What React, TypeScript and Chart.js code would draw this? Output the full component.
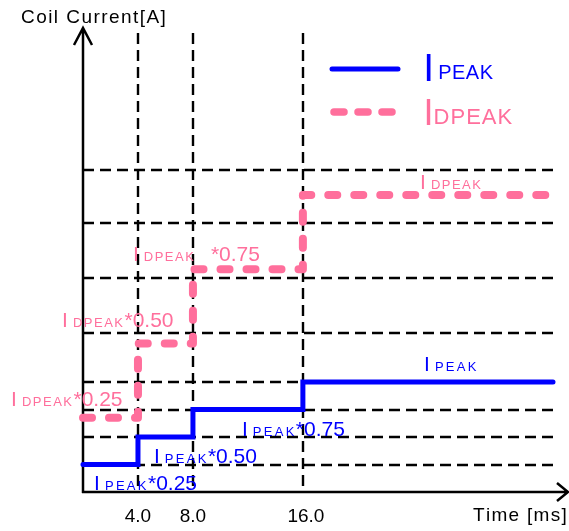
import { useEffect, useRef } from "react";
import { Chart, registerables } from "chart.js";

Chart.register(...registerables);

// ---- data ----
const timeMs = [0, 4, 8, 16, 34.2];
const ipeakLevels = [0.25, 0.5, 0.75, 1.0, 1.0];
const idpeakLevels = [0.675, 1.35, 2.025, 2.7, 2.7];
const gridLevels = [0.25, 0.5, 0.75, 1.0, 1.45, 1.95, 2.45, 2.93];
const xTicks = [4, 8, 16];
const xTickLabels = ["4.0", "8.0", "16.0"];
const yAxisTitle = "Coil Current[A]";
const xAxisTitle = "Time [ms]";
const seriesSubs = ["PEAK", "DPEAK"];
const ipeakSuffixes = ["*0.25", "*0.50", "*0.75", ""];
const idpeakSuffixes = ["*0.25", "*0.50", "*0.75", ""];

const BLUE = "#0000ff";
const PINK = "#ff6f9c";
const FONT = '"Liberation Sans", Arial, sans-serif';

function drawSeg(ctx: CanvasRenderingContext2D, text: string, x: number, y: number, size: number, spacing: number) {
  ctx.font = `${size}px ${FONT}`;
  let cx = x;
  for (const ch of text) {
    ctx.fillText(ch, cx, y);
    cx += ctx.measureText(ch).width + spacing;
  }
  return cx - spacing;
}

function drawILabel(
  ctx: CanvasRenderingContext2D,
  barX: number,
  base: number,
  color: string,
  sub: string,
  suffix: string,
  o: { iSize: number; gap: number; subSize: number; subSpacing: number; subBase?: number; sufGap: number; sufSize: number }
) {
  ctx.fillStyle = color;
  ctx.textAlign = "left";
  ctx.textBaseline = "alphabetic";
  ctx.font = `${o.iSize}px ${FONT}`;
  const ix = barX - o.iSize * 0.094;
  ctx.fillText("I", ix, base);
  const iw = ctx.measureText("I").width;
  const cx = drawSeg(ctx, sub, ix + iw + o.gap, base + (o.subBase || 0), o.subSize, o.subSpacing);
  if (suffix) drawSeg(ctx, suffix, cx + o.sufGap, base, o.sufSize, 0);
}

const drawPlugin = {
  id: "coilDrawing",
  beforeDatasetsDraw(chart: any) {
    const { ctx, chartArea: a, scales } = chart;
    const x = scales.x;
    const y = scales.y;
    ctx.save();
    // dashed grid
    ctx.strokeStyle = "#000";
    ctx.lineWidth = 2.4;
    ctx.setLineDash([11, 6]);
    gridLevels.forEach((v, i) => {
      const py = Math.round(y.getPixelForValue(v));
      ctx.beginPath();
      ctx.moveTo(a.left, py);
      ctx.lineTo(a.right + (i < 2 ? 6 : 0), py);
      ctx.stroke();
    });
    xTicks.forEach((t) => {
      const px = Math.round(x.getPixelForValue(t));
      ctx.beginPath();
      ctx.moveTo(px, a.top);
      ctx.lineTo(px, a.bottom);
      ctx.stroke();
    });
    // axes with arrows
    ctx.setLineDash([]);
    ctx.lineWidth = 2.5;
    const x0 = x.getPixelForValue(0);
    const y0 = y.getPixelForValue(0);
    ctx.beginPath();
    ctx.moveTo(x0, y0 + 1);
    ctx.lineTo(x0, a.top - 5);
    ctx.moveTo(x0 - 9, a.top + 12);
    ctx.lineTo(x0, a.top - 5);
    ctx.lineTo(x0 + 9, a.top + 12);
    ctx.moveTo(x0 - 1, y0);
    ctx.lineTo(a.right + 15, y0);
    ctx.moveTo(a.right + 4, y0 - 9);
    ctx.lineTo(a.right + 15, y0);
    ctx.lineTo(a.right + 4, y0 + 9);
    ctx.stroke();

    // tick labels
    ctx.fillStyle = "#000";
    ctx.font = `19px ${FONT}`;
    ctx.textAlign = "center";
    ctx.textBaseline = "alphabetic";
    xTicks.forEach((t, i) => {
      ctx.fillText(xTickLabels[i], x.getPixelForValue(t) + (i === 2 ? 3 : 0), y0 + 30);
    });
    // axis titles
    ctx.textAlign = "left";
    drawSeg(ctx, yAxisTitle, x0 - 62, a.top - 10, 19, 1.45);
    ctx.fillStyle = "#000";
    drawSeg(ctx, xAxisTitle, a.right - 80, y0 + 29, 19, 1.3);

    // legend
    ctx.lineCap = "round";
    ctx.strokeStyle = BLUE;
    ctx.lineWidth = 5;
    ctx.beginPath();
    ctx.moveTo(a.left + 249, a.top + 36);
    ctx.lineTo(a.left + 315, a.top + 36);
    ctx.stroke();
    ctx.strokeStyle = PINK;
    ctx.lineWidth = 7.5;
    ctx.setLineDash([10, 14]);
    ctx.beginPath();
    ctx.moveTo(a.left + 251, a.top + 79);
    ctx.lineTo(a.left + 314, a.top + 79);
    ctx.stroke();
    ctx.setLineDash([]);
    drawILabel(ctx, a.left + 344, a.top + 48, BLUE, seriesSubs[0], "", {
      iSize: 39, gap: 4, subSize: 20, subSpacing: 0.5, subBase: -2, sufGap: 0, sufSize: 20,
    });
    drawILabel(ctx, a.left + 344, a.top + 92, PINK, seriesSubs[1], "", {
      iSize: 36, gap: 0, subSize: 22, subSpacing: 1, subBase: -1, sufGap: 0, sufSize: 22,
    });
    ctx.restore();
  },
  afterDatasetsDraw(chart: any) {
    const { ctx, scales } = chart;
    const x = scales.x;
    const y = scales.y;
    ctx.save();
    const blueAnchors = [
      [0.95, 0.018, 1.5],
      [5.31, 0.264, 1.5],
      [11.71, 0.509, 1.5],
      [24.96, 1.1, 0],
    ];
    const pinkAnchors = [
      [-5.09, 0.782, 1.5],
      [-1.38, 1.5, 1.5],
      [3.78, 2.1, 17],
      [24.67, 2.755, 0],
    ];
    blueAnchors.forEach(([t, v, g], i) => {
      drawILabel(ctx, x.getPixelForValue(t), y.getPixelForValue(v), BLUE, seriesSubs[0], ipeakSuffixes[i], {
        iSize: 21, gap: 5, subSize: 13, subSpacing: 2.3, sufGap: g, sufSize: 21,
      });
    });
    pinkAnchors.forEach(([t, v, g], i) => {
      drawILabel(ctx, x.getPixelForValue(t), y.getPixelForValue(v), PINK, seriesSubs[1], idpeakSuffixes[i], {
        iSize: 21, gap: 5, subSize: 13, subSpacing: 1.5, sufGap: g, sufSize: 21,
      });
    });
    ctx.restore();
  },
};

export default function App() {
  const ref = useRef<HTMLCanvasElement | null>(null);
  useEffect(() => {
    if (!ref.current) return;
    const chart = new Chart(ref.current, {
      type: "line",
      data: {
        datasets: [
          {
            label: "IPEAK",
            data: timeMs.map((t, i) => ({ x: t, y: ipeakLevels[i] })),
            borderColor: BLUE,
            borderWidth: 5,
            stepped: "before",
            pointRadius: 0,
            fill: false,
            borderCapStyle: "round",
            borderJoinStyle: "miter",
            clip: 12,
            order: 2,
          },
          {
            label: "IDPEAK",
            data: timeMs.map((t, i) => ({ x: t, y: idpeakLevels[i] })),
            borderColor: PINK,
            borderWidth: 8,
            borderDash: [9, 17],
            stepped: "before",
            pointRadius: 0,
            fill: false,
            borderCapStyle: "round",
            borderJoinStyle: "round",
            clip: 12,
            order: 1,
          },
        ],
      } as any,
      options: {
        animation: false,
        responsive: false,
        events: [],
        layout: { padding: { left: 83, right: 16, top: 33, bottom: 39 } },
        scales: {
          x: { type: "linear", min: 0, max: 34.2, display: false },
          y: { type: "linear", min: 0, max: 4.173, display: false },
        },
        plugins: { legend: { display: false }, tooltip: { enabled: false } },
      } as any,
      plugins: [drawPlugin],
    });
    return () => chart.destroy();
  }, []);
  return (
    <div style={{ position: "absolute", left: 0, top: 0, width: 569, height: 531, background: "#fff" }}>
      <canvas ref={ref} width={569} height={531} style={{ width: 569, height: 531, display: "block" }} />
    </div>
  );
}
